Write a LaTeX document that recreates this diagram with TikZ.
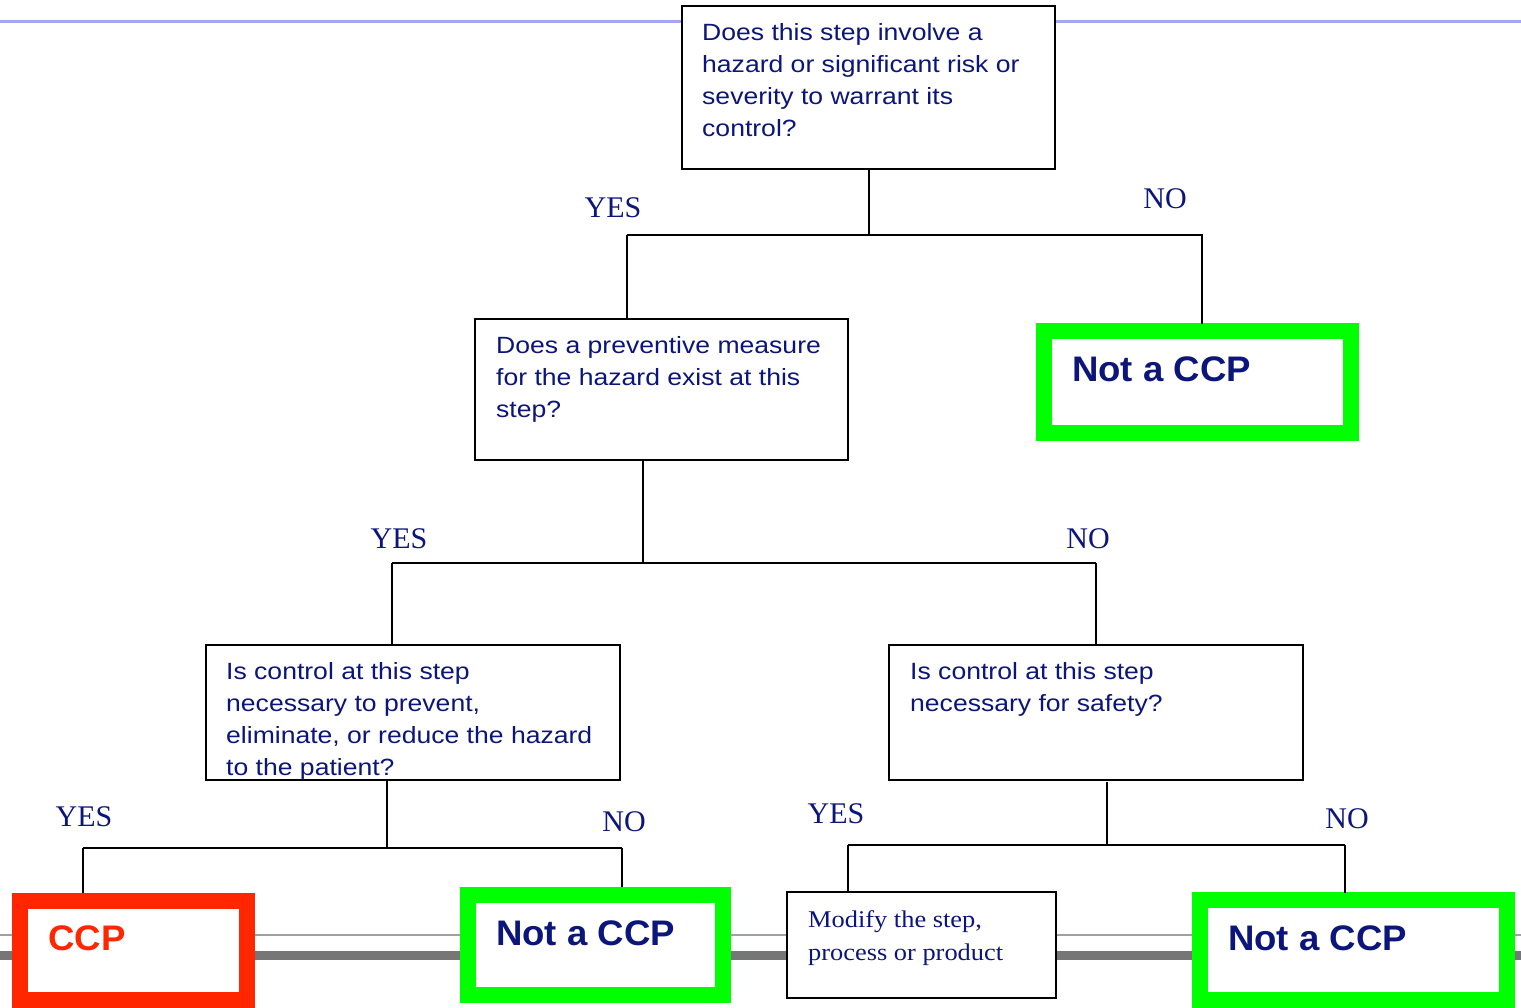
\documentclass[tikz,border=0pt]{standalone}
\usepackage{fontspec}
\setmainfont{Liberation Sans}
\newfontfamily\qfont[FakeStretch=1.13]{Liberation Sans}
\newfontfamily\ccpfont[FakeStretch=1.03]{Liberation Sans}
\newfontfamily\yfont{Liberation Serif}
\newfontfamily\mfont[FakeStretch=1.1]{Liberation Serif}
\definecolor{navy}{RGB}{12,22,122}
\definecolor{ccpred}{RGB}{255,38,0}
\definecolor{ccpgreen}{RGB}{0,255,0}
\definecolor{topblue}{RGB}{165,165,240}
\definecolor{thingray}{RGB}{160,160,160}
\definecolor{thickgray}{RGB}{118,118,118}
\tikzset{
  qbox/.style={draw=black, line width=2pt, fill=white, inner sep=0pt},
  gbox/.style={draw=ccpgreen, line width=16pt, fill=white, inner sep=0pt},
  rbox/.style={draw=ccpred, line width=16pt, fill=white, inner sep=0pt},
  qtext/.style={anchor=north west, inner sep=0pt, align=left, text=navy,
    font=\qfont\fontsize{23.5}{32}\selectfont},
  mtext/.style={anchor=north west, inner sep=0pt, align=left, text=navy,
    font=\mfont\fontsize{24}{33}\selectfont},
  ntext/.style={anchor=north west, inner sep=0pt, text=navy,
    font=\ccpfont\bfseries\fontsize{35.5}{40}\selectfont},
  ctext/.style={anchor=north west, inner sep=0pt, text=ccpred,
    font=\ccpfont\bfseries\fontsize{35.5}{40}\selectfont},
  lab/.style={anchor=base, inner sep=0pt, text=navy,
    font=\yfont\fontsize{30}{30}\selectfont},
  conn/.style={draw=black, line width=2pt},
}
\begin{document}
\begin{tikzpicture}[x=1pt,y=-1pt]
\useasboundingbox (0,0) rectangle (1521,1008);
% background rules
\draw[topblue, line width=3pt] (0,22) -- (1521,22);
\draw[thingray, line width=2pt] (0,935) -- (1521,935);
\draw[thickgray, line width=9pt] (0,955.5) -- (1521,955.5);

% boxes
\node[qbox, minimum width=373pt, minimum height=163pt] (b1) at (868.5,87.5) {};
\node[qbox, minimum width=373pt, minimum height=141pt] (b2) at (661.5,389.5) {};
\node[qbox, minimum width=414pt, minimum height=135pt] (b3) at (413,712.5) {};
\node[qbox, minimum width=414pt, minimum height=135pt] (b4) at (1096,712.5) {};
\node[qbox, minimum width=269pt, minimum height=106pt] (bm) at (921.5,945) {};
\node[gbox, minimum width=307pt, minimum height=102pt] (g1) at (1197.5,382) {};
\node[gbox, minimum width=255pt, minimum height=100pt] (g2) at (595.5,945) {};
\node[gbox, minimum width=307pt, minimum height=100pt] (g3) at (1353.5,950) {};
\node[rbox, minimum width=227pt, minimum height=99pt] (r1) at (133.5,950.5) {};

% texts
\node[qtext] (b1t) at (702,23) {Does this step involve a\\hazard or significant risk or\\severity to warrant its\\control?};
\node[qtext] (b2t) at (496,336) {Does a preventive measure\\for the hazard exist at this\\step?};
\node[qtext] (b3t) at (226,662) {Is control at this step\\necessary to prevent,\\eliminate, or reduce the hazard\\to the patient?};
\node[qtext] (b4t) at (910,662) {Is control at this step\\necessary for safety?};
\node[mtext] (bmt) at (808,910) {Modify the step,\\process or product};
\node[ntext] (g1t) at (1072,357) {Not a CCP};
\node[ntext] (g2t) at (496,921) {Not a CCP};
\node[ntext] (g3t) at (1228,926) {Not a CCP};
\node[ctext] (r1t) at (48,926) {CCP};

% labels
\node[lab] (y1) at (613,218) {YES};
\node[lab] (n1) at (1165,209) {NO};
\node[lab] (y2) at (399,548) {YES};
\node[lab] (n2) at (1088,548) {NO};
\node[lab] (y3) at (84,826) {YES};
\node[lab] (n3) at (624,831) {NO};
\node[lab] (y4) at (836,823) {YES};
\node[lab] (n4) at (1347,828) {NO};

% connectors level 1
\coordinate (h1L) at (627,235);
\coordinate (h1R) at (1203,235);
\draw[conn] (b1.south) -- (b1.south |- h1L);
\draw[conn] (h1L) -- (h1R);
\draw[conn] (h1L) -- (h1L |- b2.north);
\draw[conn] (1202,235) -- (1202,324);

% level 2
\coordinate (d2) at (643,563);
\coordinate (h2L) at (392,563);
\coordinate (h2R) at (1096,563);
\draw[conn] (d2 |- b2.south) -- (d2);
\draw[conn] (h2L) -- (h2R);
\draw[conn] (h2L) -- (h2L |- b3.north);
\draw[conn] (h2R) -- (h2R |- b4.north);

% level 3 left
\coordinate (d3) at (387,848);
\coordinate (h3L) at (83,848);
\coordinate (h3R) at (622,848);
\draw[conn] (d3 |- b3.south) -- (d3);
\draw[conn] (h3L) -- (h3R);
\draw[conn] (h3L) -- (83,893);
\draw[conn] (h3R) -- (622,887);

% level 3 right
\coordinate (d4) at (1107,845);
\coordinate (h4L) at (848,845);
\coordinate (h4R) at (1345,845);
\draw[conn] (1107,782) -- (d4);
\draw[conn] (h4L) -- (h4R);
\draw[conn] (h4L) -- (h4L |- bm.north);
\draw[conn] (h4R) -- (1345,893);
\end{tikzpicture}
\end{document}
